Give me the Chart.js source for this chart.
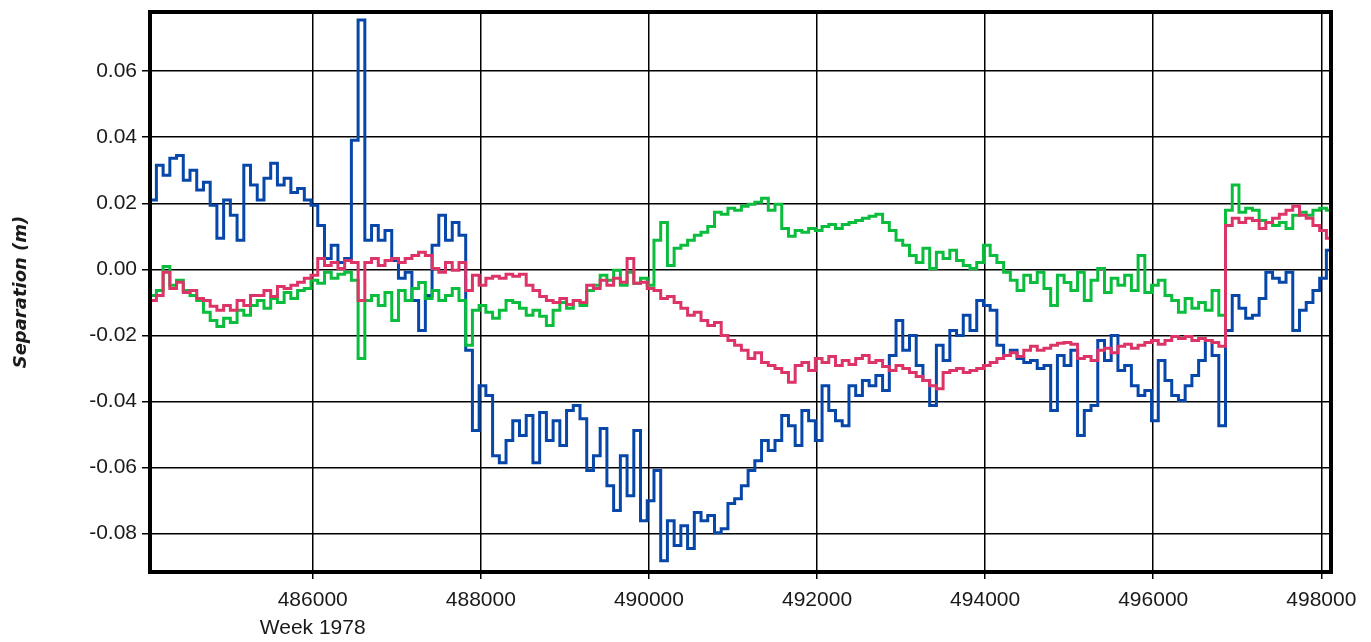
<!DOCTYPE html>
<html>
<head>
<meta charset="utf-8">
<title>Separation</title>
<script src="https://cdn.jsdelivr.net/npm/chart.js@4/dist/chart.umd.min.js"></script>
<style>
  html, body { margin: 0; padding: 0; background: #fff; }
  canvas { display: block; }
</style>
</head>
<body>
<canvas id="separation-chart" width="1371" height="642"></canvas>
<script>
// Sampling grid (GPS seconds of week 1978)
const SAMPLE_START = 484060;
const SAMPLE_STEP = 80;

// Axis ticks
const xTicks = [486000, 488000, 490000, 492000, 494000, 496000, 498000];
const yTicks = [-0.08, -0.06, -0.04, -0.02, 0.0, 0.02, 0.04, 0.06];
const weekLabel = "Week 1978";

// Separation values (m), one per sample
const blueSeparation = [
  0.021, 0.0315, 0.0285, 0.0336, 0.0345, 0.027, 0.030, 0.024, 0.0264, 0.0194,
  0.0094, 0.021, 0.0164, 0.0088, 0.0315, 0.0255, 0.021, 0.0276, 0.0321, 0.0255,
  0.0276, 0.0233, 0.0245, 0.021, 0.0194, 0.0133, 0.0033, 0.0073, 0.0021, 0.0033,
  0.0391, 0.0755, 0.0088, 0.0133, 0.0088, 0.0118, 0.0027, -0.0027, -0.0009, -0.0094,
  -0.0185, -0.0079, 0.0073, 0.0164, 0.0088, 0.0142, 0.0103, -0.0245, -0.0488, -0.0352,
  -0.0382, -0.0564, -0.0585, -0.0518, -0.0458, -0.0503, -0.0442, -0.0585, -0.0433, -0.0518,
  -0.0458, -0.0533, -0.0427, -0.0412, -0.0452, -0.0609, -0.0564, -0.0482, -0.0655, -0.073,
  -0.0564, -0.0685, -0.0488, -0.0761, -0.070, -0.0609, -0.0882, -0.0761, -0.0836, -0.0776,
  -0.0845, -0.0736, -0.0761, -0.0745, -0.0797, -0.0785, -0.0709, -0.0694, -0.0655, -0.0609,
  -0.0579, -0.0518, -0.0548, -0.0518, -0.0442, -0.0473, -0.0533, -0.0427, -0.0458, -0.0518,
  -0.0352, -0.0427, -0.0458, -0.0473, -0.0352, -0.0382, -0.0336, -0.0352, -0.0321, -0.0367,
  -0.0261, -0.0155, -0.0245, -0.020, -0.0291, -0.0336, -0.0412, -0.023, -0.0276, -0.0185,
  -0.020, -0.0139, -0.0185, -0.0094, -0.0109, -0.0124, -0.023, -0.0261, -0.0245, -0.027,
  -0.0282, -0.0276, -0.030, -0.0291, -0.0427, -0.0261, -0.0291, -0.0245, -0.0503, -0.0427,
  -0.0412, -0.0215, -0.0276, -0.020, -0.0306, -0.0291, -0.0352, -0.0382, -0.0367, -0.0458,
  -0.0276, -0.0336, -0.0382, -0.0397, -0.0352, -0.0321, -0.0276, -0.0215, -0.0261, -0.0473,
  -0.0185, -0.0079, -0.0118, -0.0148, -0.0139, -0.0088, -0.0009, -0.0027, -0.0039, -0.0009,
  -0.0185, -0.0124, -0.010, -0.0064, -0.0027, 0.0058, 0.0088,
];

const greenSeparation = [
  -0.0079, -0.0064, 0.0009, -0.0048, -0.0033, -0.0064, -0.0079, -0.0094, -0.013, -0.0155,
  -0.0173, -0.0148, -0.0161, -0.0124, -0.0139, -0.0109, -0.0094, -0.0118, -0.0088, -0.010,
  -0.007, -0.0088, -0.0064, -0.0058, -0.0033, -0.0042, -0.0009, -0.0027, -0.0015, -0.0009,
  -0.0033, -0.027, -0.0094, -0.0079, -0.0109, -0.007, -0.0155, -0.0064, -0.0094, -0.0058,
  -0.004, -0.0088, -0.0064, -0.0094, -0.0079, -0.0058, -0.0094, -0.023, -0.0124, -0.0109,
  -0.013, -0.0148, -0.0124, -0.0094, -0.010, -0.0118, -0.0139, -0.0124, -0.0142, -0.017,
  -0.0124, -0.010, -0.0118, -0.0094, -0.0109, -0.0064, -0.0048, -0.0018, -0.0033, -0.0003,
  -0.0048, -0.0009, -0.0042, -0.0027, -0.0048, 0.0088, 0.0142, 0.0012, 0.0064, 0.0073,
  0.0088, 0.0103, 0.0112, 0.013, 0.0173, 0.0167, 0.0185, 0.0179, 0.0191, 0.0197,
  0.0203, 0.0215, 0.0179, 0.0197, 0.0124, 0.010, 0.0118, 0.0112, 0.0124, 0.0118,
  0.013, 0.0136, 0.0124, 0.0136, 0.0142, 0.0148, 0.0155, 0.0161, 0.0167, 0.0142,
  0.0118, 0.0088, 0.0073, 0.0042, 0.0021, 0.0064, 0.0003, 0.0052, 0.0033, 0.0058,
  0.0027, 0.0012, 0.0003, 0.0021, 0.0073, 0.0042, 0.0021, -0.0009, -0.0033, -0.0064,
  -0.0018, -0.004, -0.0009, -0.0058, -0.0109, -0.0018, -0.004, -0.0064, -0.0009, -0.0094,
  -0.0033, 0.0003, -0.007, -0.0027, -0.0048, -0.0018, -0.0064, 0.0042, -0.007, -0.0048,
  -0.0033, -0.0079, -0.0094, -0.013, -0.0088, -0.0118, -0.010, -0.0124, -0.0064, -0.0139,
  0.0179, 0.0255, 0.0173, 0.0185, 0.0179, 0.0148, 0.0142, 0.0133, 0.0142, 0.0124,
  0.0164, 0.0173, 0.0164, 0.0179, 0.0185, 0.0179, 0.0173,
];

const redSeparation = [
  -0.0094, -0.0079, -0.0009, -0.0058, -0.0039, -0.007, -0.0064, -0.0088, -0.0094, -0.0112,
  -0.0124, -0.0109, -0.0124, -0.0094, -0.0109, -0.0079, -0.0079, -0.0064, -0.0082, -0.0052,
  -0.0058, -0.0048, -0.0039, -0.0027, -0.0018, 0.0033, 0.0012, 0.0021, 0.0003, 0.0027,
  0.0021, -0.0094, 0.0021, 0.0033, 0.0012, 0.0027, 0.0033, 0.0021, 0.0033, 0.0042,
  0.0052, 0.0042, 0.0003, -0.0009, 0.0021, -0.0003, 0.0021, -0.0064, -0.0018, -0.0048,
  -0.0027, -0.0021, -0.0027, -0.0015, -0.0021, -0.0015, -0.0048, -0.0064, -0.0082, -0.0094,
  -0.010, -0.0088, -0.0106, -0.0094, -0.010, -0.0048, -0.0058, -0.0033, -0.0048, -0.0027,
  -0.0039, 0.0033, -0.0042, -0.0039, -0.0058, -0.0064, -0.0088, -0.0082, -0.010, -0.0118,
  -0.0139, -0.013, -0.0155, -0.017, -0.0161, -0.020, -0.0215, -0.023, -0.0245, -0.027,
  -0.0252, -0.0282, -0.0291, -0.030, -0.0312, -0.0342, -0.0291, -0.0282, -0.0306, -0.027,
  -0.0282, -0.0264, -0.0291, -0.0276, -0.0288, -0.027, -0.0261, -0.0282, -0.0276, -0.0294,
  -0.0306, -0.0291, -0.030, -0.0312, -0.0324, -0.0336, -0.0352, -0.0361, -0.0312, -0.0306,
  -0.030, -0.0312, -0.0306, -0.030, -0.0291, -0.0282, -0.027, -0.0261, -0.0252, -0.0264,
  -0.0245, -0.0233, -0.0245, -0.0239, -0.023, -0.0224, -0.0221, -0.0227, -0.027, -0.0264,
  -0.0276, -0.0245, -0.0239, -0.0252, -0.0233, -0.0227, -0.0239, -0.023, -0.0221, -0.0215,
  -0.0227, -0.0215, -0.0203, -0.0209, -0.0203, -0.0215, -0.0209, -0.0215, -0.0221, -0.0233,
  0.0133, 0.0155, 0.0142, 0.0155, 0.0148, 0.0124, 0.0142, 0.0155, 0.0167, 0.0179,
  0.0191, 0.0164, 0.0155, 0.0133, 0.0118, 0.0094, 0.0073,
];

const weekSeconds = blueSeparation.map((_, i) => SAMPLE_START + i * SAMPLE_STEP);

// Helpers
const toPoints = (values) => values.map((y, i) => ({ x: weekSeconds[i], y }));

const TICK_FONT = { family: "'Liberation Sans', Arial, sans-serif", size: 21, lineHeight: 1.3 };
const TEXT_COLOR = "#1a1a1a";

// Frame around the plot area
const framePlugin = {
  id: "frame",
  afterDraw(chart) {
    const { ctx, chartArea } = chart;
    ctx.save();
    ctx.strokeStyle = "#000";
    ctx.lineWidth = 4;
    ctx.strokeRect(
      chartArea.left,
      chartArea.top,
      chartArea.right - chartArea.left,
      chartArea.bottom - chartArea.top
    );
    ctx.restore();
  },
};

const separationChart = new Chart(document.getElementById("separation-chart"), {
  type: "line",
  data: {
    datasets: [
      {
        label: "Blue",
        data: toPoints(blueSeparation),
        borderColor: "#0747a9",
        order: 3,
      },
      {
        label: "Green",
        data: toPoints(greenSeparation),
        borderColor: "#0bbd3d",
        order: 2,
      },
      {
        label: "Red",
        data: toPoints(redSeparation),
        borderColor: "#dc3466",
        order: 1,
      },
    ],
  },
  options: {
    responsive: false,
    animation: false,
    datasets: {
      line: { stepped: true, borderWidth: 3, pointRadius: 0, fill: false },
    },
    layout: { padding: { left: 0, top: 12, right: 40, bottom: 0 } },
    plugins: {
      legend: { display: false },
      tooltip: { enabled: false },
    },
    scales: {
      x: {
        type: "linear",
        min: 484064,
        max: 498115,
        afterBuildTicks: (scale) => {
          scale.ticks = xTicks.map((value) => ({ value }));
        },
        afterFit: (scale) => {
          scale.height = 70;
          scale.paddingLeft = 0;
          scale.paddingRight = 0;
        },
        border: { display: false },
        grid: { color: "#000", lineWidth: 1.5, tickLength: 7 },
        ticks: {
          autoSkip: false,
          maxRotation: 0,
          padding: 8,
          color: TEXT_COLOR,
          font: TICK_FONT,
          callback: (value) => (value === xTicks[0] ? [String(value), weekLabel] : String(value)),
        },
      },
      y: {
        type: "linear",
        min: -0.0916,
        max: 0.0779,
        afterBuildTicks: (scale) => {
          scale.ticks = yTicks.map((value) => ({ value }));
        },
        afterFit: (scale) => {
          scale.width = 150;
          scale.paddingTop = 0;
          scale.paddingBottom = 0;
        },
        border: { display: false },
        grid: { color: "#000", lineWidth: 1.5, tickLength: 8 },
        ticks: {
          padding: 5,
          color: TEXT_COLOR,
          font: TICK_FONT,
          callback: (value) => value.toFixed(2),
        },
        title: {
          display: true,
          text: "Separation (m)",
          color: TEXT_COLOR,
          padding: { top: 11, bottom: 0 },
          font: { family: "'DejaVu Sans', sans-serif", size: 18, style: "italic", weight: "bold" },
        },
      },
    },
  },
  plugins: [framePlugin],
});
</script>
</body>
</html>
